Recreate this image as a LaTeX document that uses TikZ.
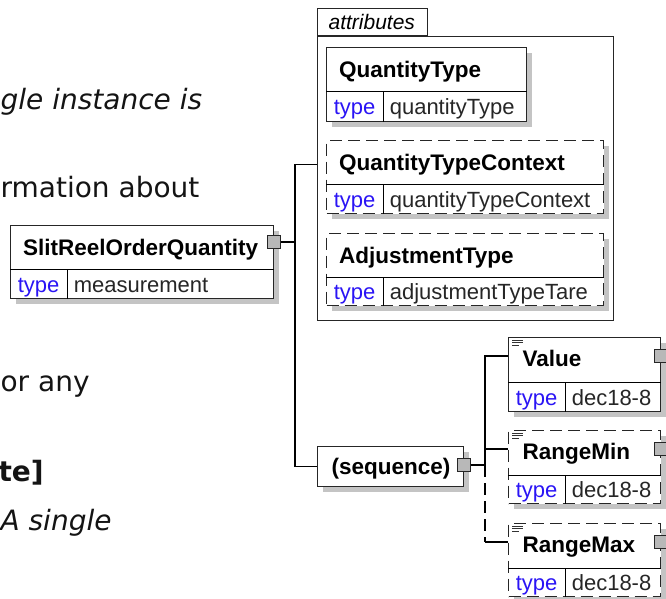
\documentclass[tikz,border=0pt]{standalone}
\usepackage{fontspec}
\setsansfont{Liberation Sans}
\newfontfamily\bodyfont{DejaVu Sans}
\usetikzlibrary{positioning, calc, shadows}
\definecolor{xsdBlue}{HTML}{2A14F5}
\definecolor{xsdShadow}{HTML}{C4C4C4}
\definecolor{xsdBox}{HTML}{7E7E7E}

\begin{document}
\begin{tikzpicture}[
    x=1pt, y=-1pt,
    line width=1.2pt,
    frame/.style={rectangle, draw=black!85, fill=white, anchor=north west, inner sep=0pt,
                  drop shadow={shadow xshift=5pt, shadow yshift=-5pt, fill=xsdShadow, opacity=1}},
    optional/.style={dash pattern=on 12pt off 6pt},
    ename/.style={anchor=north west, inner xsep=12.5pt, inner ysep=0pt, minimum height=43pt,
                  text height=19pt, text depth=3pt,
                  font=\sffamily\bfseries\fontsize{22.5}{24}\selectfont},
    ekey/.style={anchor=north west, inner sep=0pt, minimum width=56pt,
                 text height=18pt, text depth=3pt,
                 font=\sffamily\fontsize{22}{24}\selectfont, text=xsdBlue},
    eval/.style={anchor=west, inner xsep=6pt, inner ysep=0pt,
                 text height=18pt, text depth=3pt,
                 font=\sffamily\fontsize{22}{24}\selectfont, text=black!85},
    expander/.style={rectangle, draw=black!85, fill=xsdBox!55, minimum size=13pt,
                     inner sep=0pt, line width=1pt},
    docmark/.style={line width=0.9pt, draw=black!80},
    prose/.style={anchor=base west, inner sep=0pt, text=black!92,
                  font=\bodyfont\fontsize{28}{32}\selectfont},
  ]
    \useasboundingbox (0,0) rectangle (666,599);
    \clip (0,0) rectangle (666,599);

    % text of the page behind the diagram
    \node[prose, font=\bodyfont\itshape\fontsize{28}{32}\selectfont] (p1) at (0,110) {gle instance is};
    \node[prose] (p2) at (0,197) {rmation about};
    \node[prose] (p3) at (0,391) {or any};
    \node[prose, font=\bodyfont\bfseries\fontsize{28}{32}\selectfont] (p4) at (-2,481) {te]};
    \node[prose, font=\bodyfont\itshape\fontsize{28}{32}\selectfont] (p5) at (0,530) {A single};

    % root element
    \node[frame, minimum width=263pt, minimum height=73pt] (sroq) at (10,225) {};
    \node[ename] (sroqn) at (sroq.north west) {SlitReelOrderQuantity};
    \node[ekey, minimum height=30pt] (sroqk) at (sroqn.south west) {type};
    \node[eval] (sroqv) at (sroqk.east) {measurement};
    \draw (sroqk.north west) -- (sroqk.north west -| sroq.east);
    \draw (sroqk.north east) -- (sroqk.north east |- sroq.south);
    \node[expander] (sroqx) at ([yshift=-17pt]sroq.north east) {};

    % attributes group
    \node[rectangle, draw=black!85, anchor=north west, minimum width=296pt, minimum height=284pt,
          inner sep=0pt] (attrs) at (317,36) {};
    \node[rectangle, draw=black!85, fill=white, anchor=south west, minimum width=110pt,
          minimum height=27pt, inner xsep=11pt, inner ysep=0pt, align=left, text width=88pt,
          font=\sffamily\itshape\fontsize{21}{23}\selectfont] (attrtab) at (attrs.north west) {attributes};
    \coordinate (attrsin) at ($(attrtab.north west)!0.5!(attrs.south west)$);

    \node[frame, minimum width=200pt, minimum height=74pt] (qt) at (326,47) {};
    \node[ename] (qtn) at (qt.north west) {QuantityType};
    \node[ekey, minimum height=31pt] (qtk) at (qtn.south west) {type};
    \node[eval] (qtv) at (qtk.east) {quantityType};
    \draw (qtk.north west) -- (qtk.north west -| qt.east);
    \draw (qtk.north east) -- (qtk.north east |- qt.south);

    \node[frame, optional, minimum width=277pt, minimum height=73pt] (qtc) at (326,140) {};
    \node[ename] (qtcn) at (qtc.north west) {QuantityTypeContext};
    \node[ekey, minimum height=30pt] (qtck) at (qtcn.south west) {type};
    \node[eval] (qtcv) at (qtck.east) {quantityTypeContext};
    \draw (qtck.north west) -- (qtck.north west -| qtc.east);
    \draw (qtck.north east) -- (qtck.north east |- qtc.south);

    \node[frame, optional, minimum width=277pt, minimum height=72pt] (adj) at (326,233) {};
    \node[ename] (adjn) at (adj.north west) {AdjustmentType};
    \node[ekey, minimum height=29pt] (adjk) at (adjn.south west) {type};
    \node[eval] (adjv) at (adjk.east) {adjustmentTypeTare};
    \draw (adjk.north west) -- (adjk.north west -| adj.east);
    \draw (adjk.north east) -- (adjk.north east |- adj.south);

    % sequence
    \node[frame, minimum width=146pt, minimum height=40pt] (seq) at (317,446) {};
    \node[ename, minimum height=40pt, inner xsep=14pt] (seqn) at (seq.north west) {(sequence)};
    \node[expander] (seqx) at ([yshift=-19pt]seq.north east) {};

    % children of the sequence
    \node[frame, minimum width=152pt, minimum height=74pt] (val) at (508,337) {};
    \node[ename, minimum height=42pt, inner xsep=14pt] (valn) at (val.north west) {Value};
    \node[ekey, minimum height=30pt] (valk) at ([yshift=-2pt]valn.south west) {type};
    \node[eval] (valv) at (valk.east) {dec18-8};
    \draw (valk.north west) -- (valk.north west -| val.east);
    \draw (valk.north east) -- (valk.north east |- val.south);
    \node[expander] (valx) at ([yshift=-19pt]val.north east) {};
    \draw[docmark] ([shift={(4,3)}]val.north west) -- ++(11,0)
      ++(-11,2.5) -- ++(11,0) ++(-11,2.5) -- ++(7,0);

    \node[frame, optional, minimum width=152pt, minimum height=73pt] (rmin) at (508,430) {};
    \node[ename, minimum height=42pt, inner xsep=14pt] (rminn) at (rmin.north west) {RangeMin};
    \node[ekey, minimum height=29pt] (rmink) at ([yshift=-2pt]rminn.south west) {type};
    \node[eval] (rminv) at (rmink.east) {dec18-8};
    \draw (rmink.north west) -- (rmink.north west -| rmin.east);
    \draw (rmink.north east) -- (rmink.north east |- rmin.south);
    \node[expander] (rminx) at ([yshift=-19pt]rmin.north east) {};
    \draw[docmark] ([shift={(4,3)}]rmin.north west) -- ++(11,0)
      ++(-11,2.5) -- ++(11,0) ++(-11,2.5) -- ++(7,0);

    \node[frame, optional, minimum width=152pt, minimum height=73pt] (rmax) at (508,523) {};
    \node[ename, minimum height=42pt, inner xsep=14pt] (rmaxn) at (rmax.north west) {RangeMax};
    \node[ekey, minimum height=29pt] (rmaxk) at ([yshift=-2pt]rmaxn.south west) {type};
    \node[eval] (rmaxv) at (rmaxk.east) {dec18-8};
    \draw (rmaxk.north west) -- (rmaxk.north west -| rmax.east);
    \draw (rmaxk.north east) -- (rmaxk.north east |- rmax.south);
    \node[expander] (rmaxx) at ([yshift=-19pt]rmax.north east) {};
    \draw[docmark] ([shift={(4,3)}]rmax.north west) -- ++(11,0)
      ++(-11,2.5) -- ++(11,0) ++(-11,2.5) -- ++(7,0);

    % connectors
    \coordinate (trunkA) at (295,0);
    \coordinate (trunkB) at (485,0);
    \draw (sroqx.east) -- (sroqx.east -| trunkA);
    \draw (attrsin) -| (trunkA |- seq.west) -- (seq.west);
    \draw (seqx.east) -- (seqx.east -| trunkB);
    \draw (valx -| val.west) -| (trunkB |- seqx.east);
    \draw (rminx -| rmin.west) -- (rminx -| trunkB);
    \draw[optional] (trunkB |- seqx.east) -- (trunkB |- rmaxx);
    \draw (trunkB |- rmaxx) -- (rmaxx -| rmax.west);
  \end{tikzpicture}
\end{document}
